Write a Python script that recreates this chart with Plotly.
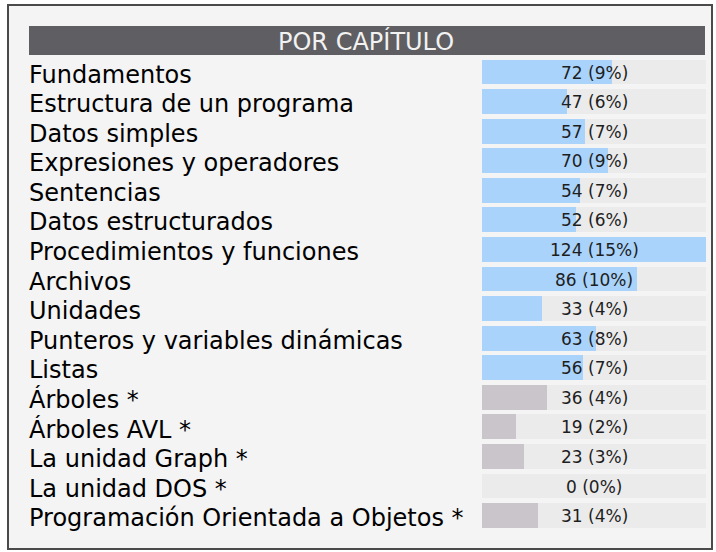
import plotly.graph_objects as go

capitulos = [
    "Fundamentos", "Estructura de un programa", "Datos simples",
    "Expresiones y operadores", "Sentencias", "Datos estructurados",
    "Procedimientos y funciones", "Archivos", "Unidades",
    "Punteros y variables dinámicas", "Listas", "Árboles *",
    "Árboles AVL *", "La unidad Graph *", "La unidad DOS *",
    "Programación Orientada a Objetos *",
]
preguntas = [72, 47, 57, 70, 54, 52, 124, 86, 33, 63, 56, 36, 19, 23, 0, 31]
opcional = [False] * 11 + [True] * 5

W, H = 716, 552
total = sum(preguntas)
vmax = max(preguntas)
colores = ["#c9c5ca" if o else "#a9d3fb" for o in opcional]

def px(x):
    return x / W

def py(y):
    return 1 - y / H

fig = go.Figure()
# pista gris detrás de cada barra
fig.add_trace(go.Bar(y=capitulos, x=[vmax] * len(capitulos), orientation="h",
                     marker=dict(color="#ebebeb", line_width=0), width=0.84,
                     hoverinfo="skip"))
fig.add_trace(go.Bar(y=capitulos, x=preguntas, orientation="h",
                     marker=dict(color=colores, line_width=0), width=0.84))

for c, v in zip(capitulos, preguntas):
    fig.add_annotation(x=vmax / 2, y=c, xref="x", yref="y", showarrow=False,
                       text=f"{v} ({round(100 * v / total)}%)",
                       font=dict(family="DejaVu Sans", size=17, color="#1e1e1e"),
                       yshift=-1)
    fig.add_annotation(x=px(27), y=c, xref="paper", yref="y", showarrow=False,
                       xanchor="left", text=c, yshift=-3,
                       font=dict(family="DejaVu Sans", size=24, color="#000"))

# marco exterior y cabecera
fig.add_shape(type="rect", xref="paper", yref="paper",
              x0=px(8), x1=px(712), y0=py(549), y1=py(5),
              fillcolor="#f4f4f4", line=dict(color="#4a4a4a", width=2), layer="below")
fig.add_shape(type="rect", xref="paper", yref="paper",
              x0=px(29), x1=px(705), y0=py(55), y1=py(26),
              fillcolor="#5f5e62", line_width=0)
fig.add_annotation(x=px(366), y=py(41), xref="paper", yref="paper", showarrow=False,
                   xanchor="center", yanchor="middle", text="POR CAPÍTULO",
                   font=dict(family="DejaVu Sans", size=24, color="#f2f2f2"))

fig.update_layout(
    width=W, height=H, margin=dict(l=0, r=0, t=0, b=0),
    paper_bgcolor="white", plot_bgcolor="rgba(0,0,0,0)",
    barmode="overlay", showlegend=False, bargap=0,
    xaxis=dict(domain=[px(482), px(706)], range=[0, vmax], visible=False),
    yaxis=dict(domain=[py(529.9), py(52.6)], autorange="reversed",
               showticklabels=False, showgrid=False, zeroline=False),
)
fig.write_html("out.html", config={"displayModeBar": False},
               post_script="document.body.style.margin='0';")
